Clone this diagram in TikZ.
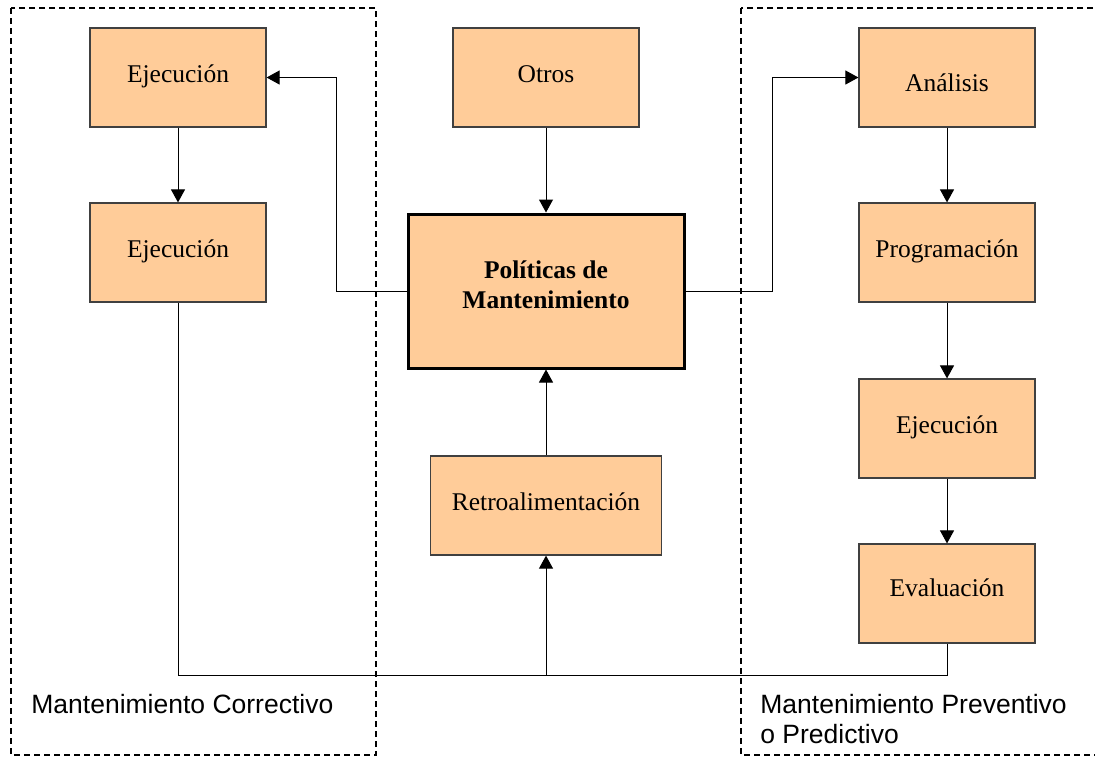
\documentclass[tikz,border=0pt]{standalone}
\usepackage{fontspec}
\setmainfont{Liberation Serif}
\setsansfont{Liberation Sans}
\usepackage{xcolor}
\usetikzlibrary{arrows.meta}
\definecolor{naranja}{RGB}{255,204,153}
\definecolor{borde}{RGB}{64,64,64}

\begin{document}
\begin{tikzpicture}[x=0.5pt,y=-0.5pt,
		caja/.style={draw=borde,line width=0.6pt,fill=naranja,inner sep=0pt,minimum width=88pt,minimum height=49.5pt,text height=12.5pt,text depth=8pt,font=\fontsize{12.75}{15}\selectfont},
		flecha/.style={-{Triangle[length=6.5pt,width=7pt]},line width=0.5pt},
		linea/.style={line width=0.5pt},
		grupo/.style={dashed,dash pattern=on 3pt off 2pt,line width=0.75pt},
		etiqueta/.style={inner sep=0pt,align=left,font=\sffamily\fontsize{13.25}{15}\selectfont}]
			\useasboundingbox (0,0) rectangle (1095,757);
			\draw[grupo] (11,8) rectangle (376,755);
			\draw[grupo] (741,8) rectangle (1120,755);
			\node[caja] (ejec1) at (178,77.5) {Ejecución};
			\node[caja] (ejec2) at (178,252.5) {Ejecución};
			\node[caja,minimum width=93pt] (otros) at (546,77.5) {Otros};
			\node[caja,draw=black,line width=1.5pt,minimum width=138pt,minimum height=77pt,align=center,text height=24pt,text depth=7pt,font=\bfseries\fontsize{12.75}{15}\selectfont] (politicas) at (546,291) {Políticas de\\Mantenimiento};
			\node[caja,minimum width=115.5pt] (retro) at (546,505.5) {Retroalimentación};
			\node[caja,text height=20pt,text depth=6pt] (analisis) at (947,77.5) {Análisis};
			\node[caja] (program) at (947,252.5) {Programación};
			\node[caja] (ejec3) at (947,428.5) {Ejecución};
			\node[caja,text height=11pt,text depth=8.5pt] (evalua) at (947,593.5) {Evaluación};
			\node[etiqueta,anchor=base west] (correctivo) at (31,713) {Mantenimiento Correctivo};
			\node[etiqueta,anchor=base west] (preventivo) at (760,743) {Mantenimiento Preventivo\\o Predictivo};
			\coordinate (base) at (546,675);
			\draw[flecha] (politicas.west) -- ++(-70,0) |- (ejec1.east);
			\draw[flecha] (politicas.east) -- ++(87,0) |- (analisis.west);
			\draw[flecha] (otros.south) -- (politicas.north);
			\draw[flecha] (retro.north) -- (politicas.south);
			\draw[flecha] (ejec1.south) -- (ejec2.north);
			\draw[flecha] (analisis.south) -- (program.north);
			\draw[flecha] (program.south) -- (ejec3.north);
			\draw[flecha] (ejec3.south) -- (evalua.north);
			\draw[linea] (ejec2.south) |- (base) -| (evalua.south);
			\draw[flecha] (base) -- (retro.south);
		\end{tikzpicture}
\end{document}
